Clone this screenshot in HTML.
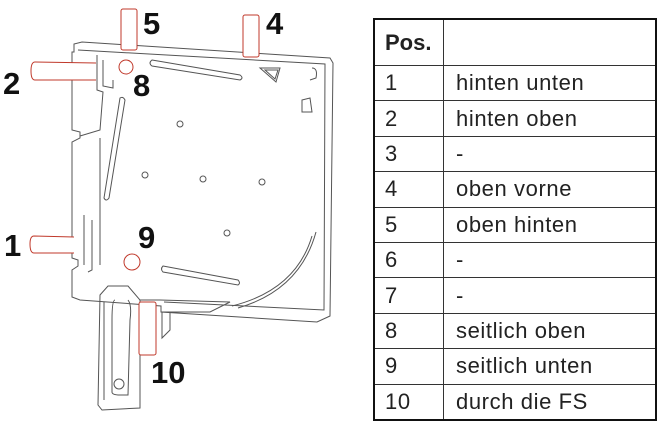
<!DOCTYPE html>
<html><head><style>
body{margin:0;background:#fff;width:667px;height:428px;overflow:hidden;position:relative;font-family:"Liberation Sans",sans-serif}
table{position:absolute;left:373px;top:18px;border-collapse:collapse;border:2.5px solid #111}
td{border:1px solid #333;height:34.4px;padding:0 0 0 12px;font-size:22px;color:#222;vertical-align:middle;line-height:1;letter-spacing:0.6px}
td.a{width:58px;padding-left:10px}
td.b{width:199px}
tr.h td{height:45px;font-weight:bold;font-size:22px;letter-spacing:0}
</style></head><body>
<svg width="667" height="428" style="position:absolute;left:0;top:0" xmlns="http://www.w3.org/2000/svg">
<g fill="none" stroke="#555" stroke-width="1">
<path d="M74,52 L74,44 L82,42 L330,58 L333,63 L330,316 L317,322 L161,312 L161,306 L80,300 L72,297 L72,270 L78,266 L78,260 L72,258 L72,142 L80,138 L80,132 L72,130 L72,52 Z"/>
<path d="M78,50 L325,64 L324,310 L164,302"/>
<path d="M97,55 L97,90 L103,92 L100,130 L80,136"/>
<path d="M103,60 L103,86 L113,88 L113,80"/>
<path d="M100,138 L100,265 M92,220 L92,270 L88,272 M84,215 L84,265"/>
<path d="M152,60 L240,75 Q244,78 240,80 L152,66 Q148,63 152,60 Z"/>
<path d="M120,98 L104,198 Q106,202 109,198 L125,100 Q123,96 120,98 Z"/>
<path d="M163,266 L238,280 Q241,283 238,285 L163,272 Q160,269 163,266 Z"/>
<path d="M260,68 L280,68 L276,82 Z M265,70 L278,70 L275,79 Z"/>
<path d="M312,68 Q318,68 316,78 L310,80 M302,100 L310,98 L312,112 L302,112 Z"/>
<path d="M316,232 Q300,290 238,308 M312,236 Q296,290 232,306"/>
<circle cx="180" cy="124" r="3"/><circle cx="145" cy="175" r="3"/><circle cx="203" cy="179" r="3"/><circle cx="262" cy="182" r="3"/><circle cx="227" cy="233" r="3"/>
<path d="M100,295 L98,405 L102,410 L140,408 L140,300 L128,286 L108,286 Z"/>
<path d="M104,302 L104,400 M115,300 Q112,300 112,320 L112,392 Q112,395 120,395 L128,395 L130,320 Q132,305 128,300"/>
<path d="M140,300 L160,300 L230,302 L210,312 L162,312 L162,338 L170,330 L170,312"/>
<circle cx="119" cy="384" r="5"/>
</g>
<g fill="#fff" stroke="#c0392b" stroke-width="1">
<rect x="121" y="9" width="16" height="41" rx="2"/>
<rect x="243" y="15" width="16" height="42" rx="2"/>
<path d="M96,63 L35,62 Q31,62 31,71 Q31,80 35,80 L96,80"/>
<path d="M74,237 L34,236 Q30,236 30,244 Q30,253 34,253 L74,253"/>
<rect x="139" y="302" width="17" height="53" rx="2"/>
<circle cx="126" cy="67" r="7"/>
<circle cx="132" cy="262" r="8"/>
</g>
<g font-family="Liberation Sans,sans-serif" font-weight="bold" font-size="31" fill="#111">
<text x="143" y="34">5</text>
<text x="266" y="34">4</text>
<text x="3" y="94">2</text>
<text x="133" y="96">8</text>
<text x="4" y="256">1</text>
<text x="138" y="248">9</text>
<text x="151" y="383">10</text>
</g>
</svg>
<table>
<tr class="h"><td class="a">Pos.</td><td class="b"></td></tr>
<tr><td class="a">1</td><td class="b">hinten unten</td></tr>
<tr><td class="a">2</td><td class="b">hinten oben</td></tr>
<tr><td class="a">3</td><td class="b">-</td></tr>
<tr><td class="a">4</td><td class="b">oben vorne</td></tr>
<tr><td class="a">5</td><td class="b">oben hinten</td></tr>
<tr><td class="a">6</td><td class="b">-</td></tr>
<tr><td class="a">7</td><td class="b">-</td></tr>
<tr><td class="a">8</td><td class="b">seitlich oben</td></tr>
<tr><td class="a">9</td><td class="b">seitlich unten</td></tr>
<tr><td class="a">10</td><td class="b">durch die FS</td></tr>
</table>
</body></html>
